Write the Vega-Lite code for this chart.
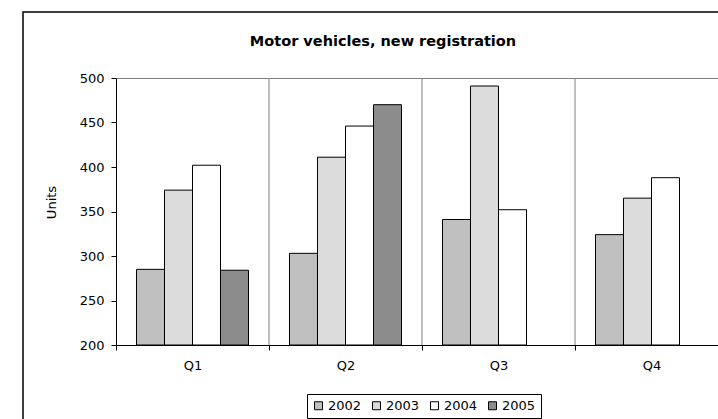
{
  "$schema": "https://vega.github.io/schema/vega-lite/v6.json",
  "width": 720,
  "height": 420,
  "autosize": {"type": "none"},
  "padding": {"left": 23, "top": 12, "right": 0, "bottom": 0},
  "background": "white",
  "title": {
    "text": "Motor vehicles, new registration",
    "font": "DejaVu Sans",
    "fontSize": 14.5,
    "fontWeight": "bold",
    "color": "#000000",
    "anchor": "middle",
    "frame": "group",
    "orient": "top",
    "baseline": "alphabetic",
    "offset": 0,
    "dy": 48
  },
  "data": {
    "values": [
      {"quarter": "Q1", "year": "2002", "units": 285},
      {"quarter": "Q1", "year": "2003", "units": 374},
      {"quarter": "Q1", "year": "2004", "units": 402},
      {"quarter": "Q1", "year": "2005", "units": 284},
      {"quarter": "Q2", "year": "2002", "units": 303},
      {"quarter": "Q2", "year": "2003", "units": 411},
      {"quarter": "Q2", "year": "2004", "units": 446},
      {"quarter": "Q2", "year": "2005", "units": 470},
      {"quarter": "Q3", "year": "2002", "units": 341},
      {"quarter": "Q3", "year": "2003", "units": 491},
      {"quarter": "Q3", "year": "2004", "units": 352},
      {"quarter": "Q4", "year": "2002", "units": 324},
      {"quarter": "Q4", "year": "2003", "units": 365},
      {"quarter": "Q4", "year": "2004", "units": 388}
    ]
  },
  "layer": [
    {
      "mark": {"type": "bar", "stroke": "#000000", "strokeWidth": 1},
      "encoding": {
        "x": {
          "field": "quarter",
          "type": "nominal",
          "sort": ["Q1", "Q2", "Q3", "Q4"],
          "scale": {"range": [93, 705], "paddingInner": 0, "paddingOuter": 0},
          "axis": {
            "title": null,
            "orient": "bottom",
            "offset": -87,
            "tickBand": "extent",
            "grid": false,
            "tickColor": "#000000",
            "tickSize": 5,
            "domainColor": "#000000",
            "labelFont": "DejaVu Sans",
            "labelFontSize": 13,
            "labelColor": "#000000",
            "labelPadding": 9,
            "labelAngle": 0
          }
        },
        "xOffset": {
          "field": "year",
          "type": "nominal",
          "scale": {"domain": ["2002", "2003", "2004", "2005"], "paddingInner": 0, "paddingOuter": 0.732}
        },
        "y": {
          "field": "units",
          "type": "quantitative",
          "scale": {"domain": [200, 500], "range": [333, 66], "zero": false, "nice": false},
          "axis": {
            "title": "Units",
            "titleFont": "DejaVu Sans",
            "titleFontSize": 13,
            "titleFontWeight": "normal",
            "titleColor": "#000000",
            "titlePadding": 21,
            "titleY": 190,
            "values": [200, 250, 300, 350, 400, 450, 500],
            "offset": -93,
            "labelFont": "DejaVu Sans",
            "labelFontSize": 13,
            "labelColor": "#000000",
            "labelPadding": 7,
            "tickColor": "#000000",
            "tickSize": 5,
            "domainColor": "#000000",
            "grid": true,
            "gridColor": "#808080",
            "gridOpacity": {"condition": {"test": "datum.value === 500", "value": 1}, "value": 0}
          }
        },
        "y2": {"datum": 200},
        "fill": {
          "field": "year",
          "type": "nominal",
          "scale": {"domain": ["2002", "2003", "2004", "2005"], "range": ["#c0c0c0", "#dcdcdc", "#ffffff", "#8c8c8c"]},
          "legend": {
            "orient": "none",
            "legendX": 284,
            "legendY": 382,
            "direction": "horizontal",
            "title": null,
            "strokeColor": "#000000",
            "fillColor": "#ffffff",
            "padding": 5,
            "symbolType": "square",
            "symbolSize": 64,
            "symbolStrokeColor": "#000000",
            "symbolStrokeWidth": 1,
            "symbolOpacity": 1,
            "labelFont": "DejaVu Sans",
            "labelFontSize": 13,
            "labelColor": "#000000",
            "labelOffset": 3,
            "columnPadding": 8
          }
        }
      }
    },
    {
      "transform": [
        {"aggregate": [{"op": "count", "as": "n"}], "groupby": ["quarter"]},
        {"filter": "datum.quarter !== 'Q1'"}
      ],
      "mark": {"type": "rule", "color": "#808080", "strokeWidth": 1},
      "encoding": {
        "x": {"field": "quarter", "type": "nominal", "bandPosition": 0},
        "y": {"datum": 200, "type": "quantitative"},
        "y2": {"datum": 500}
      }
    }
  ],
  "config": {
    "view": {"stroke": "#000000", "strokeWidth": 1.5}
  }
}
